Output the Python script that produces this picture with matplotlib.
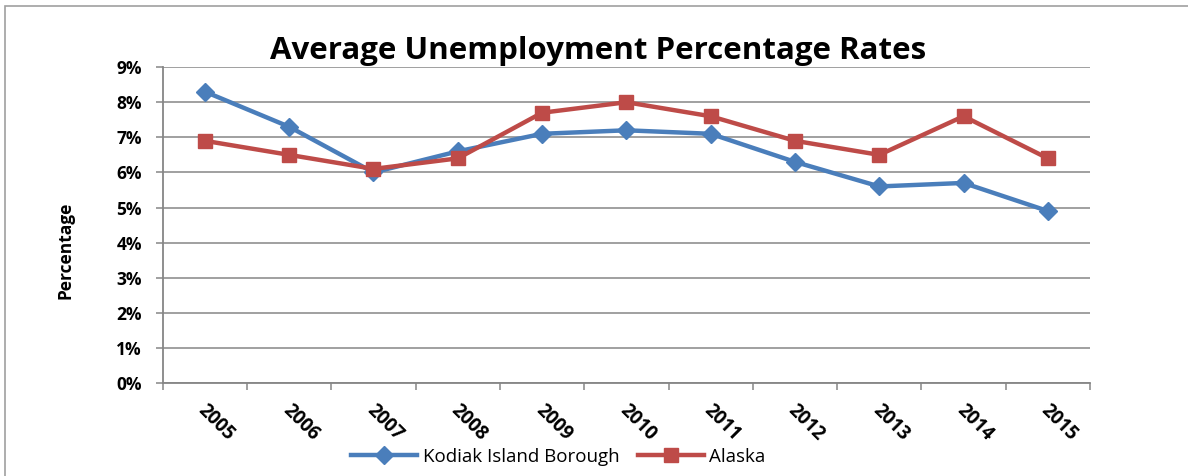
import numpy as np
import matplotlib.pyplot as plt
from matplotlib.patches import Rectangle

# datos
years = ['2005', '2006', '2007', '2008', '2009', '2010', '2011', '2012', '2013', '2014', '2015']
kodiak = [8.3, 7.3, 6.0, 6.6, 7.1, 7.2, 7.1, 6.3, 5.6, 5.7, 4.9]
alaska = [6.9, 6.5, 6.1, 6.4, 7.7, 8.0, 7.6, 6.9, 6.5, 7.6, 6.4]
yticks = [0, 1, 2, 3, 4, 5, 6, 7, 8, 9]

plt.rcParams['font.family'] = ['Open Sans', 'DejaVu Sans']

fig = plt.figure(figsize=(11.88, 4.76), dpi=100)
ax = fig.add_axes([0.137, 0.1954, 0.7805, 0.6636])

x = np.arange(len(years))
ax.plot(x, kodiak, color='#4A7EBB', lw=3.2, marker='D', ms=9, label='Kodiak Island Borough')
ax.plot(x, alaska, color='#BE4B48', lw=3.2, marker='s', ms=10.5, label='Alaska')

ax.set_xlim(-0.5, len(years) - 0.5)
ax.set_ylim(0, 9)
ax.set_yticks(yticks)
ax.set_yticklabels([f'{v}%' for v in yticks], fontsize=12.5, fontweight='bold')
ax.yaxis.grid(True, color='#868686', lw=1.1)
ax.set_axisbelow(True)

# ticks entre categorías
ax.set_xticks(np.arange(-0.5, len(years), 1.0))
ax.set_xticklabels([])
ax.tick_params(axis='x', length=5, color='#868686', width=1.1)
ax.tick_params(axis='y', length=5, color='#868686', width=1.1, pad=10)
for i, yr in enumerate(years):
    ax.text(i + 0.04, -0.5, yr, rotation=-45, ha='left', va='top', rotation_mode='anchor',
            fontsize=13.5, fontweight='bold')

for s in ['top', 'right']:
    ax.spines[s].set_visible(False)
for s in ['left', 'bottom']:
    ax.spines[s].set_color('#868686')
    ax.spines[s].set_linewidth(1.3)

ax.set_title('Average Unemployment Percentage Rates', fontsize=22.5, fontweight='bold', pad=6,
             x=0.47)
fig.text(0.055, 0.475, 'Percentage', rotation=90, ha='center', va='center',
         fontsize=12.5, fontweight='bold', fontstretch='condensed')

fig.legend(loc='center', bbox_to_anchor=(0.47, 0.04), ncol=2, frameon=False,
           fontsize=13.5, handlelength=3.5, columnspacing=1.0, handletextpad=0.3)

fig.patches.append(Rectangle((0.004, -0.1), 1.2, 1.088, transform=fig.transFigure,
                             fill=False, edgecolor='#A0A0A0', lw=1.2))

fig.savefig('out.png', dpi=100)
